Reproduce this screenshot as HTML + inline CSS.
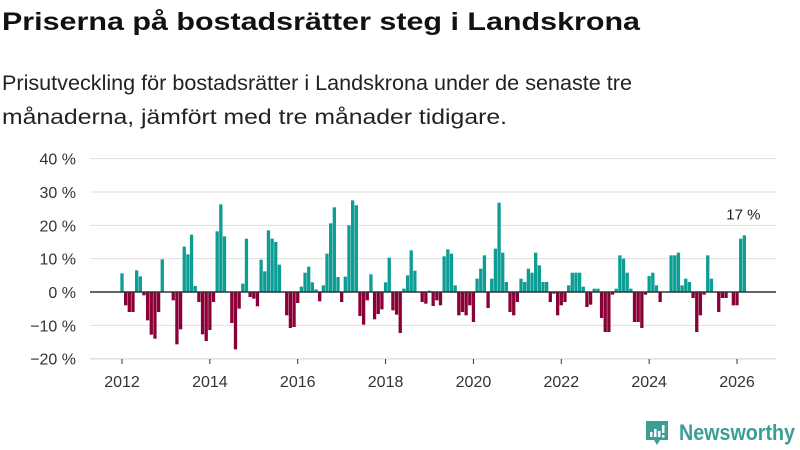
<!DOCTYPE html>
<html><head><meta charset="utf-8"><style>
html,body{margin:0;padding:0;background:#fff;}
svg{display:block;font-family:"Liberation Sans",sans-serif;}
</style></head><body>
<svg id="chart" width="800" height="450" viewBox="0 0 800 450" xmlns="http://www.w3.org/2000/svg">
<text x="2" y="30" font-size="25" font-weight="bold" fill="#111" textLength="638" lengthAdjust="spacingAndGlyphs">Priserna på bostadsrätter steg i Landskrona</text>
<text x="2" y="90" font-size="21" fill="#222" textLength="630" lengthAdjust="spacingAndGlyphs">Prisutveckling för bostadsrätter i Landskrona under de senaste tre</text>
<text x="2" y="124" font-size="21" fill="#222" textLength="505" lengthAdjust="spacingAndGlyphs">månaderna, jämfört med tre månader tidigare.</text>
<g id="grid"></g>
<g id="bars"></g>
<g id="axes"></g>
<g>
<path d="M646 421h22v19h-8l-3 5-3-5h-8z" fill="#3a9e95"/>
<rect x="650" y="432" width="2.5" height="5" fill="#fff"/><rect x="654" y="429" width="2.5" height="8" fill="#fff"/><rect x="658" y="431" width="2.5" height="6" fill="#fff"/><rect x="662" y="425" width="2.5" height="8" fill="#fff"/><rect x="662" y="435" width="2.5" height="2.5" fill="#fff"/>
<text x="679" y="440" font-size="22" font-weight="bold" fill="#3a9e95" textLength="116" lengthAdjust="spacingAndGlyphs">Newsworthy</text>
</g>
</svg>
<script>
const values = [5.6,-4,-6,-6,6.5,4.7,-1,-8.5,-12.8,-14,-6,9.8,0,0,-2.5,-15.7,-11.2,13.6,11.3,17.2,1.8,-3,-12.7,-14.7,-11.4,-3,18.2,26.3,16.7,0,-9.3,-17.2,-5,2.5,16,-1.5,-2,-4.3,9.7,6.2,18.5,
16,15,8.2,0,-7,-10.8,-10.5,-3.3,1.6,5.8,7.6,2.9,0.8,-2.8,2,11.5,20.6,25.4,4.5,-3,4.6,20,27.5,26,-7.2,-9.8,-2.5,5.3,-8.2,-6.6,-5.2,2.9,10.3,-5.5,-6.8,-12.3,1,5,12.5,6.4,0,-3,
-3.5,0.4,-4.2,-2.5,-4,10.7,12.8,11.5,2,-7,-6,-7,-4,-9,4,7,11,-4.8,4,13,26.8,11.8,3,-6,-7,-3,4,3,7,5.8,11.8,8,3,3,-3,-0.5,-7,-4,-3,2,5.8,5.8,
5.8,1.6,-4.5,-3.8,1,1,-7.8,-12,-12,-0.8,1,11,10,5.8,1,-9,-9,-10.8,-0.8,4.8,5.8,2,-3,0,0,11,11,11.8,2,4,3,-1.8,-12,-7,-0.8,11,4,0,-6,-1.8,-1.8,0,-4,-4,16,17];
const startYear = 2012;
const yTicks = [-20,-10,0,10,20,30,40];
const xTicks = [2012,2014,2016,2018,2020,2022,2024,2026];
const lastLabel = "17 %";
const NS="http://www.w3.org/2000/svg";
const x0=122, pxYear=43.93;
function xScale(t){return x0+(t-startYear)*pxYear;}
function yScale(v){return 292-v*3.333;}
function mk(tag,attrs,parent){const e=document.createElementNS(NS,tag);for(const k in attrs)e.setAttribute(k,attrs[k]);parent.appendChild(e);return e;}
const grid=document.getElementById('grid'),bars=document.getElementById('bars'),axes=document.getElementById('axes');
yTicks.forEach(v=>{
 if(v!==0){const l=mk('line',{x1:90,x2:776,y1:yScale(v),y2:yScale(v),stroke:'#dedede','stroke-width':1},grid);
 
 }
 const t=mk('text',{x:76,y:yScale(v)+6,'font-size':16,fill:'#333','text-anchor':'end'},axes);
 t.textContent=(v<0?'−':'')+Math.abs(v)+' %';
 
 
});
const bw=3.3;
values.forEach((v,i)=>{
 const cx=xScale(startYear+i/12);
 const y1=yScale(Math.max(v,0)),y2=yScale(Math.min(v,0));
 const r=mk('rect',{x:cx-bw/2,y:y1,width:bw,height:Math.max(y2-y1,0),fill:v>=0?'#0c9e94':'#8a0037'},bars);
 
 
});
const zl=mk('line',{x1:90,x2:776,y1:yScale(0),y2:yScale(0),stroke:'#333','stroke-width':1.5},axes);


const bl=mk('line',{x1:90,x2:776,y1:359,y2:359,stroke:'#dedede','stroke-width':1},grid);


xTicks.forEach(yr=>{
 const x=xScale(yr);
 const tk=mk('line',{x1:x,x2:x,y1:359,y2:364,stroke:'#333','stroke-width':1},axes);
 
 
 const t=mk('text',{x:x,y:387,'font-size':16,fill:'#333','text-anchor':'middle'},axes);
 t.textContent=yr;
 
 
});
const li=values.length-1;
const lbl=mk('text',{x:xScale(startYear+li/12)-1,y:yScale(values[li])-16,'font-size':15,fill:'#222','text-anchor':'middle'},axes);
lbl.textContent=lastLabel;


</script>
</body></html>
